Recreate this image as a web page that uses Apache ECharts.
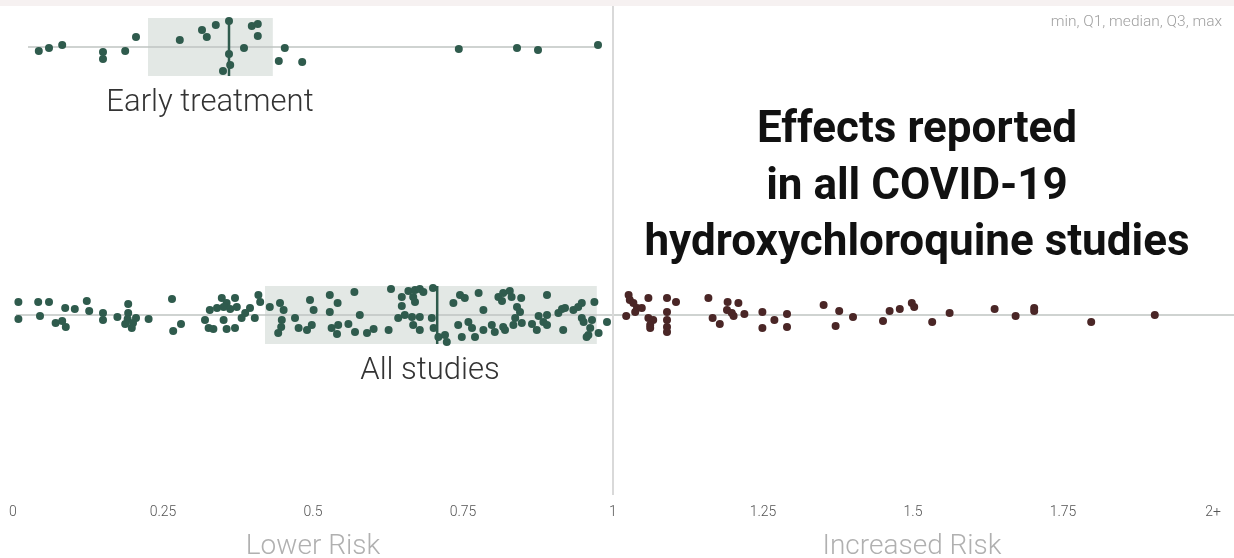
<!DOCTYPE html>
<html>
<head>
<meta charset="utf-8">
<script src="https://cdn.jsdelivr.net/npm/echarts@6/dist/echarts.min.js"></script>
<style>
html,body{margin:0;padding:0;background:#fff;}
#chart{width:1234px;height:558px;}
</style>
</head>
<body>
<div id="chart"></div>
<script>
// ---- data ----
const xTickLabels = ['0','0.25','0.5','0.75','1','1.25','1.5','1.75','2+'];
const rowNames = ['Early treatment', 'All studies'];
// [min, Q1, median, Q3, max]
const earlyStats = [0.025, 0.225, 0.360, 0.433, 0.975];
const allStats = [0.005, 0.420, 0.707, 0.973, 2.035];
const earlyValues = [0.043,0.060,0.082,0.150,0.150,0.187,0.205,0.278,0.315,0.323,0.338,0.360,0.360,0.362,0.350,0.385,0.398,0.408,0.408,0.453,0.443,0.482,0.743,0.840,0.875,0.975];
const earlyJitter = [-4,-1,2,-5,-12,-4,10,7,17,10,22,26,-7,-18,-24,-1,21,23,11,-1,-14,-15,-2,-1,-3,2];
const allValues = [
 0.009,0.009,0.042,0.060,0.045,0.071,0.082,0.088,0.087,0.103,0.123,0.127,0.150,0.150,0.174,0.192,0.192,0.191,0.187,0.198,0.205,0.200,0.226,
 0.265,0.280,0.267,0.348,0.356,0.370,0.328,0.340,0.351,0.362,0.373,0.320,0.326,0.334,0.351,0.356,0.370,0.381,0.387,0.395,0.403,0.409,0.412,0.428,0.445,0.451,0.448,0.447,0.442,0.470,0.476,
 0.495,0.501,0.498,0.490,0.528,0.541,0.528,0.569,0.578,0.531,0.542,0.540,0.559,0.570,0.590,0.601,0.626,0.630,0.648,0.648,0.642,0.659,0.670,0.678,0.667,0.670,0.684,0.653,0.665,0.678,0.667,0.678,0.700,0.698,0.701,0.709,0.720,0.723,0.734,
 0.745,0.753,0.776,0.742,0.748,0.759,0.765,0.770,0.784,0.784,0.798,0.803,0.809,0.817,0.815,0.828,0.831,0.847,0.817,0.820,0.834,0.837,0.840,0.845,0.848,0.865,0.873,0.876,0.884,0.890,0.890,0.890,0.909,0.915,0.920,0.934,0.942,0.948,0.969,0.917,0.948,0.951,0.965,0.962,0.959,0.976,0.990,0.956,
 1.026,1.028,1.034,1.040,1.037,1.048,1.022,1.059,1.059,1.067,1.062,1.062,1.090,1.105,1.090,1.090,1.090,1.090,1.159,1.166,1.178,1.191,1.209,1.190,1.198,1.201,1.219,1.249,1.249,1.269,1.290,1.290,
 1.351,1.377,1.371,1.400,1.450,1.461,1.478,1.498,1.502,1.532,1.561,1.636,1.671,1.702,1.702,1.797,1.903
];
const allJitter = [
 13,-4,13,13,-1,-8,-6,-12,7,6,14,4,2,-5,-2,11,2,-4,-9,-13,-3,-8,-4,
 16,-9,-16,17,12,17,5,7,8,6,8,-5,-13,-14,-5,-14,-13,-3,2,7,-3,20,13,8,12,5,-5,-12,-18,-3,-13,
 15,5,-10,-15,20,12,3,23,0,-13,-10,-19,-9,-17,-18,-14,-15,26,18,9,-3,24,25,26,18,13,23,0,-2,-2,-10,-15,27,-3,-13,-22,-20,-27,12,
 20,17,22,-10,-22,-7,-13,-22,5,-15,-10,-17,18,22,14,24,18,17,-12,-15,-10,-3,8,3,-8,-9,-15,-1,-7,-10,0,20,2,6,7,5,8,12,13,-15,-3,-7,-5,-13,-20,-18,-7,-22,
 20,15,12,7,3,7,-1,17,-3,-5,-10,-13,17,13,3,-5,-12,-17,17,-3,-9,13,12,5,2,-1,1,3,-13,-5,1,-12,
 10,4,-11,-2,-6,4,6,12,8,-7,2,6,-1,7,4,-7,0
];

// ---- layout constants ----
const EARLY_LEVEL = 268, ALL_LEVEL = 0, BOX_HALF = 29;
const GREEN = '#2f5b4d', BROWN = '#4a2626';

function pts(vals, jit, level, pred){
  const out = [];
  vals.forEach((v,i)=>{ if(pred(v)) out.push([v, level + jit[i]]); });
  return out;
}

const chart = echarts.init(document.getElementById('chart'));
const option = {
  animation: false,
  backgroundColor: '#ffffff',
  grid: {left: 13, right: 0, top: 6, bottom: 63},
  xAxis: {
    type: 'value', min: 0, max: 2.035, interval: 0.25,
    splitLine: {show: false}, axisLine: {show: false}, axisTick: {show: false},
    axisLabel: {
      showMaxLabel: false, margin: 10, color: '#555', fontSize: 14, fontFamily: 'Roboto', fontWeight: 300,
      formatter: function(v){ const i = Math.round(v/0.25); return xTickLabels[i] !== undefined ? xTickLabels[i] : ''; }
    }
  },
  yAxis: {type: 'value', min: -180, max: 309, show: false, splitLine: {show: false}},
  title: {
    text: 'Effects reported\nin all COVID-19\nhydroxychloroquine studies',
    left: 912, top: 98, textAlign: 'center',
    textStyle: {fontSize: 44, fontWeight: 'bold', fontFamily: 'Roboto', color: '#111', lineHeight: 56.5}
  },
  graphic: [
    {type: 'rect', left: 0, top: 0, shape: {width: 1234, height: 6}, style: {fill: '#f6f1f1'}, z: 10},
    {type: 'text', right: 12, top: 14, style: {text: 'min, Q1, median, Q3, max', fill: '#a0a0a0', font: '300 15.5px Roboto'}},
    {type: 'text', style: {text: rowNames[0], x: 210, y: 103, textAlign: 'center', textVerticalAlign: 'middle', fill: '#333', font: '300 31px Roboto'}},
    {type: 'text', style: {text: rowNames[1], x: 430, y: 371, textAlign: 'center', textVerticalAlign: 'middle', fill: '#333', font: '300 31px Roboto'}},
    {type: 'text', style: {text: 'Lower Risk', x: 313, y: 547, textAlign: 'center', textVerticalAlign: 'middle', fill: '#b0b0b0', font: '300 28px Roboto'}},
    {type: 'text', style: {text: 'Increased Risk', x: 912, y: 547, textAlign: 'center', textVerticalAlign: 'middle', fill: '#b0b0b0', font: '300 28px Roboto'}}
  ],
  series: [
    {
      type: 'custom', z: 1, silent: true,
      data: [[EARLY_LEVEL].concat(earlyStats), [ALL_LEVEL].concat(allStats)],
      renderItem: function(params, api){
        const lvl = api.value(0);
        const pMin = api.coord([api.value(1), lvl]);
        const pQ1 = api.coord([api.value(2), lvl]);
        const pMed = api.coord([api.value(3), lvl]);
        const pQ3 = api.coord([api.value(4), lvl]);
        const pMax = api.coord([api.value(5), lvl]);
        const h = api.size([0, BOX_HALF])[1];
        return {type: 'group', children: [
          {type: 'rect', shape: {x: pQ1[0], y: pQ1[1]-h, width: pQ3[0]-pQ1[0], height: 2*h}, style: {fill: '#e3e8e5'}},
          {type: 'line', shape: {x1: pMin[0], y1: pMin[1], x2: pMax[0], y2: pMax[1]}, style: {stroke: '#bfc5c2', lineWidth: 1.5}},
          {type: 'line', shape: {x1: pMed[0], y1: pMed[1]-h, x2: pMed[0], y2: pMed[1]+h}, style: {stroke: GREEN, lineWidth: 2.5}}
        ]};
      },
      markLine: {
        silent: true, symbol: 'none', label: {show: false},
        lineStyle: {color: '#d9d9d9', width: 2, type: 'solid'},
        data: [{xAxis: 1}]
      }
    },
    {type: 'scatter', z: 3, symbolSize: 8, itemStyle: {color: GREEN, opacity: 1}, data: pts(earlyValues, earlyJitter, EARLY_LEVEL, v=>v<1)},
    {type: 'scatter', z: 3, symbolSize: 8, itemStyle: {color: GREEN, opacity: 1}, data: pts(allValues, allJitter, ALL_LEVEL, v=>v<1)},
    {type: 'scatter', z: 3, symbolSize: 8, itemStyle: {color: BROWN, opacity: 1}, data: pts(allValues, allJitter, ALL_LEVEL, v=>v>=1)}
  ]
};
chart.setOption(option);
</script>
</body>
</html>
